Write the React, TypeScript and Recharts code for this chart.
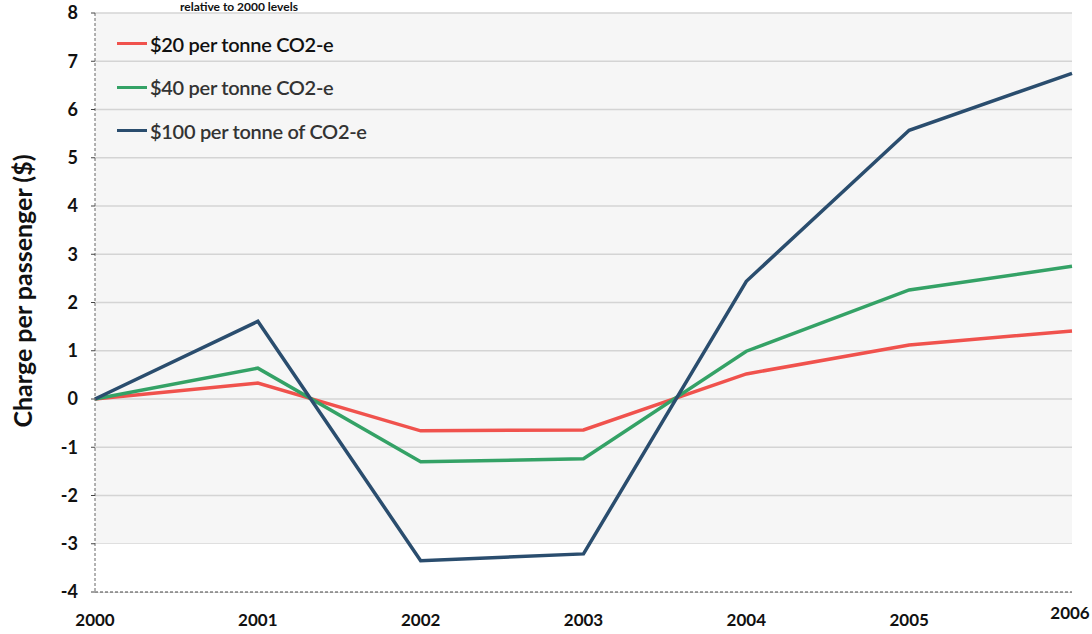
import {
  CartesianGrid,
  Line,
  LineChart,
  ReferenceArea,
  XAxis,
  YAxis,
} from "recharts";

const years = ["2000", "2001", "2002", "2003", "2004", "2005", "2006"];
const charge20 = [0, 0.33, -0.66, -0.64, 0.52, 1.12, 1.41];
const charge40 = [0, 0.64, -1.3, -1.24, 0.99, 2.26, 2.75];
const charge100 = [0, 1.61, -3.35, -3.21, 2.44, 5.57, 6.75];
const yTicks = [-4, -3, -2, -1, 0, 1, 2, 3, 4, 5, 6, 7, 8];

const seriesInfo = [
  { key: "c20", name: "$20 per tonne CO2-e", color: "#f0524d", text: "#111" },
  { key: "c40", name: "$40 per tonne CO2-e", color: "#34a266", text: "#333" },
  { key: "c100", name: "$100 per tonne of CO2-e", color: "#2a4d6e", text: "#333" },
];

const rows = years.map((year, i) => ({
  year,
  c20: charge20[i],
  c40: charge40[i],
  c100: charge100[i],
}));

const font = "Lato, 'Open Sans', sans-serif";

// year labels; the last one sits a little higher like in the scan
function YearTick(props: any) {
  const { x, y, payload, index } = props;
  const last = index === years.length - 1;
  return (
    <text
      x={x - (last ? 2 : 0)}
      y={y + (last ? -7 : 0)}
      dy="0.71em"
      textAnchor="middle"
      fill="#111"
      fontSize={17}
      fontWeight={700}
      fontFamily={font}
    >
      {payload.value}
    </text>
  );
}

// legend drawn as an overlay so it doesn't eat plot space
function LegendBox() {
  return (
    <div
      style={{
        position: "absolute",
        left: 117,
        top: 22,
        fontFamily: font,
        fontSize: 20,
        fontWeight: 600,
      }}
    >
      {seriesInfo.map((s) => (
        <div
          key={s.key}
          style={{ display: "flex", alignItems: "center", height: 43.5 }}
        >
          <span
            style={{
              display: "inline-block",
              width: 30,
              height: 3,
              background: s.color,
              marginRight: 3,
            }}
          />
          <span style={{ color: s.text, letterSpacing: -0.3 }}>{s.name}</span>
        </div>
      ))}
    </div>
  );
}

export default function App() {
  return (
    <div
      style={{
        position: "absolute",
        left: 0,
        top: 0,
        width: 1092,
        height: 634,
        overflow: "hidden",
        background: "#fff",
        fontFamily: font,
      }}
    >
      <LineChart
        width={1092}
        height={634}
        data={rows}
        margin={{ top: 13, right: 20, bottom: 0, left: 0 }}
      >
        <CartesianGrid
          vertical={false}
          stroke="#d4d4d4"
          strokeWidth={1.5}
          fill="#f6f6f6"
        />
        <ReferenceArea y1={-4} y2={-3} fill="#ffffff" fillOpacity={1} />
        <XAxis
          dataKey="year"
          padding={{ left: 0, right: 0 }}
          interval={0}
          height={42}
          tickSize={0}
          tickMargin={22}
          axisLine={{ stroke: "#444", strokeDasharray: "3 2" }}
          tick={<YearTick />}
        />
        <XAxis
          xAxisId="top"
          orientation="top"
          dataKey="year"
          height={0}
          tick={false}
          tickLine={false}
          axisLine={{ stroke: "#111", strokeWidth: 1.5 }}
        />
        <YAxis
          domain={[-4, 8]}
          ticks={yTicks}
          interval={0}
          width={95}
          tickSize={4}
          tickMargin={13}
          tickLine={{ stroke: "#444" }}
          axisLine={{ stroke: "#666", strokeDasharray: "3 2" }}
          tick={{ fill: "#111", fontSize: 18, fontWeight: 700 }}
        />
        <YAxis
          yAxisId="right"
          orientation="right"
          domain={[-4, 8]}
          width={0}
          tick={false}
          tickLine={false}
          axisLine={{ stroke: "#111", strokeWidth: 2 }}
        />
        {seriesInfo.map((s) => (
          <Line
            key={s.key}
            type="linear"
            dataKey={s.key}
            name={s.name}
            stroke={s.color}
            strokeWidth={3.5}
            dot={false}
            isAnimationActive={false}
          />
        ))}
      </LineChart>
      <LegendBox />
      <div
        style={{
          position: "absolute",
          left: 180,
          top: 0,
          fontSize: 12,
          lineHeight: "13px",
          fontWeight: 700,
          color: "#111",
        }}
      >
        relative to 2000 levels
      </div>
      <div
        style={{
          position: "absolute",
          left: 22,
          top: 291,
          transform: "translate(-50%, -50%) rotate(-90deg)",
          whiteSpace: "nowrap",
          fontSize: 25,
          fontWeight: 700,
          color: "#111",
        }}
      >
        Charge per passenger ($)
      </div>
    </div>
  );
}
